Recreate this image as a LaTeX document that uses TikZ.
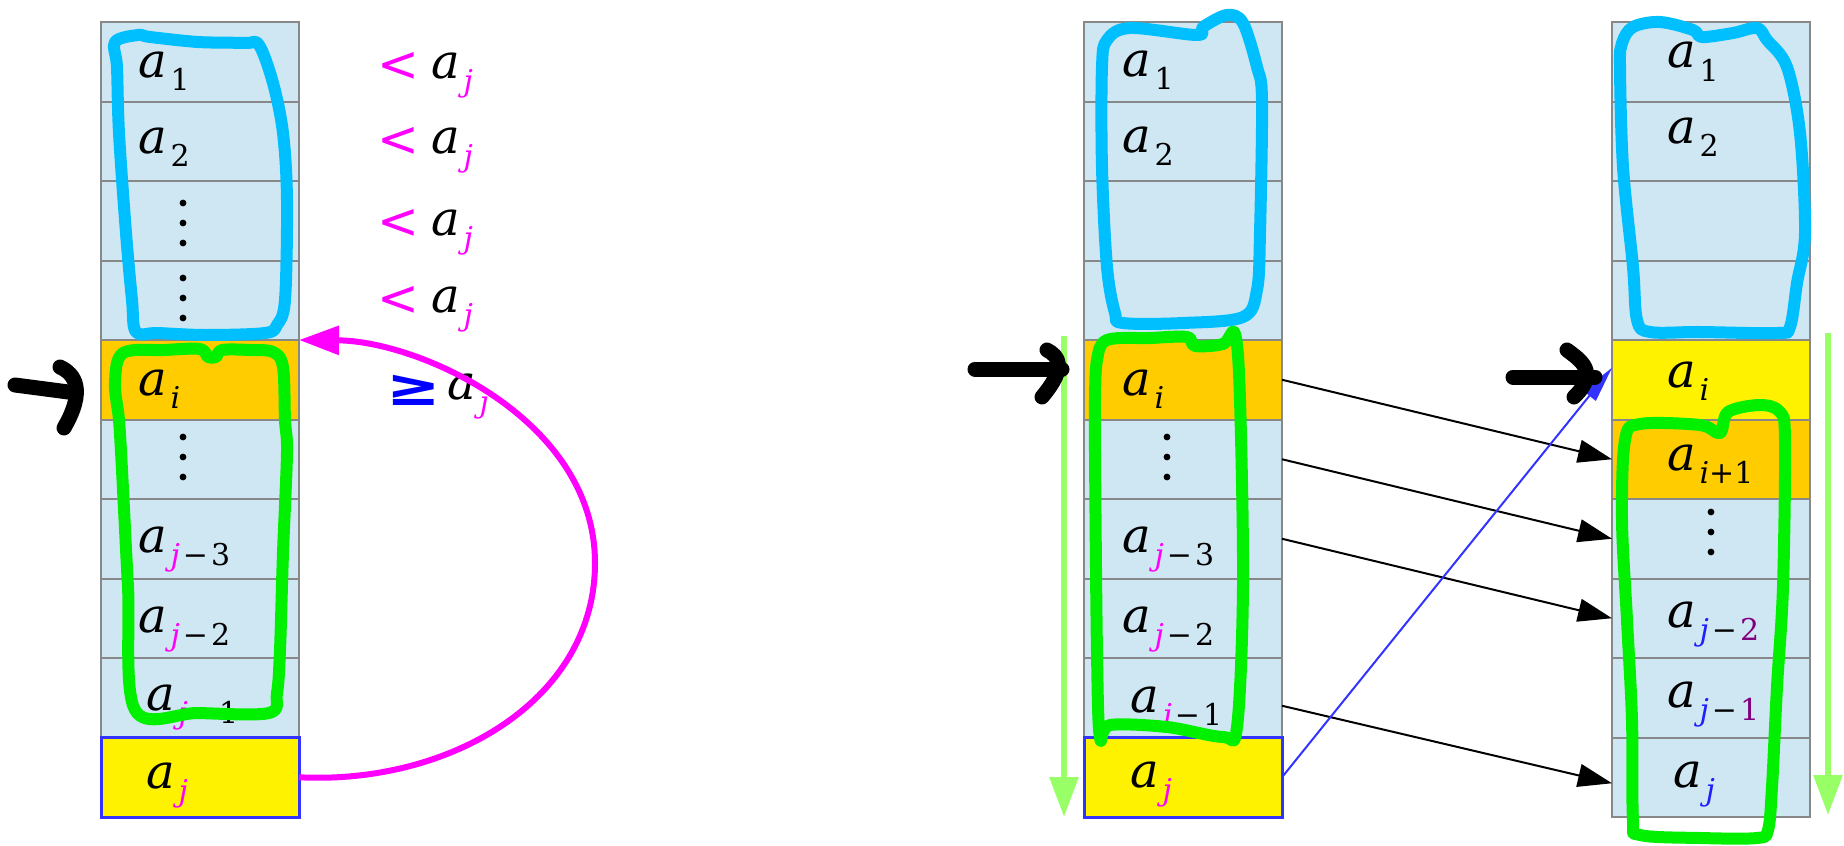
\documentclass[tikz,border=0pt]{standalone}
\usepackage{fontspec}
\setmainfont{DejaVu Serif}
\newfontfamily\symfnt{DejaVu Sans}
\usetikzlibrary{arrows.meta,calc}
\definecolor{cellblue}{RGB}{207,230,243}
\definecolor{cellorange}{RGB}{255,204,0}
\definecolor{cellgray}{RGB}{136,136,136}
\definecolor{boxblue}{RGB}{51,51,255}
\definecolor{hblue}{RGB}{0,191,255}
\definecolor{hgreen}{RGB}{0,240,0}
\definecolor{larrow}{RGB}{153,255,102}
\definecolor{mag}{RGB}{255,0,255}
\definecolor{sjblue}{RGB}{30,30,255}
\definecolor{spurple}{RGB}{128,0,128}
\newcommand\albl[1]{\fontsize{24}{24}\selectfont\textit{a}\kern2pt\raisebox{-6.8pt}{\fontsize{15}{15}\selectfont #1}}
\newcommand\jm{\textcolor{mag}{\textit{j}}}
\newcommand\jb{\textcolor{sjblue}{\textit{j}}}
\newcommand\mn{\kern1.5pt−\kern1.5pt}
\begin{document}
\begin{tikzpicture}[x=0.5pt,y=-0.5pt,
  cell/.style={draw=cellgray,line width=1pt,minimum width=99pt,minimum height=39.75pt,inner sep=0pt,outer sep=0pt},
  ybox/.style={cell,fill=yellow,draw=boxblue,line width=1.5pt},
  lbl/.style={anchor=base west,inner sep=0pt,outer sep=0pt},
  ltsign/.style={anchor=base west,inner sep=0pt,outer sep=0pt,font=\symfnt\fontsize{25}{25}\selectfont,text=mag},
  gesign/.style={anchor=base west,inner sep=0pt,outer sep=0pt,font=\symfnt\bfseries\fontsize{26}{26}\selectfont,text=blue},
  conn/.style={line width=1pt,-{Triangle[length=17pt,width=11.5pt]}},
  bconn/.style={line width=1pt,draw=boxblue,-{Triangle[length=18pt,width=8pt]},boxblue},
  garrow/.style={line width=3pt,draw=larrow,-{Triangle[length=20pt,width=14pt,fill=larrow]}},
  marc/.style={line width=3pt,draw=mag,-{Triangle[length=20pt,width=14pt,fill=mag]}},
  hloopb/.style={line width=6pt,draw=hblue,line join=round},
  hloopg/.style={line width=6pt,draw=hgreen,line join=round},
  harrow/.style={line width=7.5pt,line cap=round,line join=round},
  dot/.style={fill=black}
]
\useasboundingbox (0,0) rectangle (1844,846);

% ---------- left column ----------
\foreach \i/\c in {1/cellblue,2/cellblue,3/cellblue,4/cellblue,5/cellorange,6/cellblue,7/cellblue,8/cellblue,9/cellblue}
  \node[cell,fill=\c] (l\i) at (200,{61.75+79.5*(\i-1)}) {};
\node[ybox] (l10) at (200,777.25) {};

% ---------- middle column ----------
\foreach \i/\c in {1/cellblue,2/cellblue,3/cellblue,4/cellblue,5/cellorange,6/cellblue,7/cellblue,8/cellblue,9/cellblue}
  \node[cell,fill=\c] (m\i) at (1183,{61.75+79.5*(\i-1)}) {};
\node[ybox] (m10) at (1183,777.25) {};

% ---------- right column ----------
\foreach \i/\c in {1/cellblue,2/cellblue,3/cellblue,4/cellblue,5/yellow,6/cellorange,7/cellblue,8/cellblue,9/cellblue,10/cellblue}
  \node[cell,fill=\c] (r\i) at (1711,{61.75+79.5*(\i-1)}) {};

% ---------- labels left ----------
\node[lbl] (tl1) at (138,77) {\albl{1}};
\node[lbl] (tl2) at (138,153) {\albl{2}};
\node[lbl] (tl5) at (138,395) {\albl{\textit{i}}};
\node[lbl] (tl7) at (138,552) {\albl{\jm\mn3}};
\node[lbl] (tl8) at (138,632) {\albl{\jm\mn2}};
\node[lbl] (tl9) at (146,710) {\albl{\jm\mn1}};
\node[lbl] (tl10) at (146,788) {\albl{\jm}};
\foreach \yy in {203,223,243,278,298,318,437,457,477}
  \fill[dot] (183,\yy) circle[radius=1.7pt];

% ---------- labels middle ----------
\node[lbl] (tm1) at (1122,76) {\albl{1}};
\node[lbl] (tm2) at (1122,152) {\albl{2}};
\node[lbl] (tm5) at (1122,395) {\albl{\textit{i}}};
\node[lbl] (tm7) at (1122,552) {\albl{\jm\mn3}};
\node[lbl] (tm8) at (1122,632) {\albl{\jm\mn2}};
\node[lbl] (tm9) at (1130,712) {\albl{\jm\mn1}};
\node[lbl] (tm10) at (1130,787) {\albl{\jm}};
\foreach \yy in {437,457,477}
  \fill[dot] (1167,\yy) circle[radius=1.7pt];

% ---------- labels right ----------
\node[lbl] (tr1) at (1667,68) {\albl{1}};
\node[lbl] (tr2) at (1667,143) {\albl{2}};
\node[lbl] (tr5) at (1667,387) {\albl{\textit{i}}};
\node[lbl] (tr6) at (1667,470) {\albl{\textit{i}+1}};
\node[lbl] (tr8) at (1667,627) {\albl{\jb\mn\textcolor{spurple}{2}}};
\node[lbl] (tr9) at (1667,707) {\albl{\jb\mn\textcolor{spurple}{1}}};
\node[lbl] (tr10) at (1673,787) {\albl{\jb}};
\foreach \yy in {512,532,552}
  \fill[dot] (1711,\yy) circle[radius=1.7pt];

% ---------- comparisons ----------
\foreach \k/\yy in {1/78,2/153,3/235,4/312}{
  \node[ltsign] (lt\k) at (377,{\yy+3}) {<};
  \node[lbl] (la\k) at (431,\yy) {\albl{\jm}};
}
\node[gesign] (ge) at (386,405) {\scalebox{1.25}[1]{≥}};
\node[lbl] (gea) at (447,399) {\albl{\jm}};

% ---------- magenta arc ----------
\draw[marc] (l10.east) .. controls (450,785) and (595,700) .. (595,563)
  .. controls (595,420) and (420,341) .. (l5.north east);

% ---------- connectors ----------
\draw[conn] (m5.east) -- (r6.west);
\draw[conn] (m6.east) -- (r7.west);
\draw[conn] (m7.east) -- (r8.west);
\draw[conn] ($(m9.east)+(0,8)$) -- ($(r10.west)+(0,6)$);
\draw[bconn] (m10.east) -- ($(r5.west)+(0,-12)$);

% ---------- green arrows ----------
\coordinate (g1s) at (1064,336); \coordinate (g1e) at (1064,817);
\coordinate (g2s) at (1828,333); \coordinate (g2e) at (1828,815);
\draw[garrow] (g1s) -- (g1e);
\draw[garrow] (g2s) -- (g2e);

% ---------- hand-drawn loops ----------
\draw[hloopb] plot[smooth cycle,tension=0.55] coordinates {
 (115,42) (138,35) (150,37) (198,42) (245,43) (259,45) (273,83) (283,133) (287,200)
 (285,300) (277,325) (265,333) (206,335) (158,333) (136,332) (132,300) (126,233) (119,133) (117,67)};
\draw[hloopg] plot[smooth cycle,tension=0.55] coordinates {
 (123,353) (165,350) (200,349) (208,357) (216,357) (222,350) (250,350) (273,352) (283,367)
 (285,420) (287,453) (283,553) (280,650) (277,693) (269,713) (198,713) (135,710)
 (128,587) (122,470) (119,420) (115,383)};
\draw[hloopb] plot[smooth cycle,tension=0.55] coordinates {
 (1107,40) (1130,28) (1197,35) (1203,27) (1227,15) (1243,23) (1257,67) (1262,100) (1260,233)
 (1257,290) (1243,317) (1183,323) (1123,323) (1115,313) (1107,267) (1102,167) (1102,67)};
\draw[hloopg] plot[smooth cycle,tension=0.55] coordinates {
 (1097,360) (1107,340) (1150,338) (1187,337) (1195,346) (1223,344) (1235,334) (1240,400)
 (1243,587) (1237,727) (1223,737) (1167,727) (1110,725) (1100,738) (1097,653) (1095,453) (1095,400)};
\draw[hloopb] plot[smooth cycle,tension=0.55] coordinates {
 (1622,43) (1633,27) (1660,22) (1693,30) (1702,37) (1733,33) (1757,28) (1767,40) (1787,67)
 (1800,133) (1805,233) (1797,283) (1790,327) (1777,333) (1700,332) (1650,332) (1637,320)
 (1633,267) (1623,167) (1620,67)};
\draw[hloopg] plot[smooth cycle,tension=0.55] coordinates {
 (1625,440) (1640,424) (1700,425) (1720,433) (1728,412) (1760,405) (1780,412) (1785,440)
 (1783,587) (1777,687) (1772,787) (1768,830) (1757,838) (1700,838) (1640,835) (1633,820)
 (1632,720) (1627,620) (1622,520)};

% ---------- black hand arrows ----------
\draw[harrow] (15,385) -- (76,393);
\draw[harrow] (60,367) .. controls (75,374) and (86,390) .. (64,428);
\draw[harrow] (975,369) -- (1062,369);
\draw[harrow] (1047,350) .. controls (1058,356) and (1068,366) .. (1042,397);
\draw[harrow] (1513,377) -- (1595,377);
\draw[harrow] (1567,350) .. controls (1580,360) and (1600,372) .. (1574,397);
\end{tikzpicture}
\end{document}
